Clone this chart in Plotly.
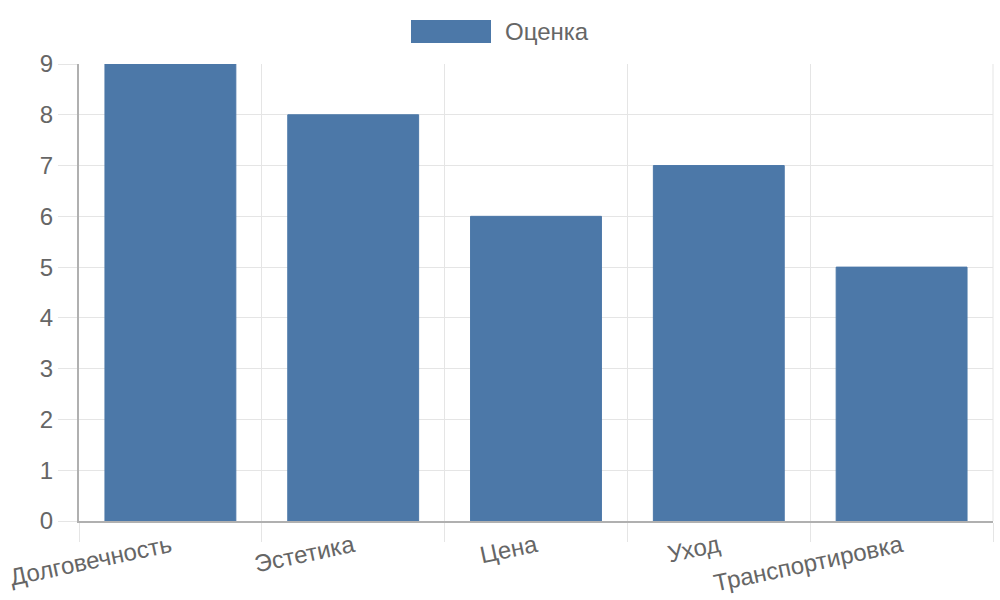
import plotly.graph_objects as go

categories = ["Долговечность", "Эстетика", "Цена", "Уход", "Транспортировка"]
values = [9, 8, 6, 7, 5]
series_name = "Оценка"
y_ticks = [0, 1, 2, 3, 4, 5, 6, 7, 8, 9]

bar_color = "#4c78a8"
text_color = "#666666"
grid_color = "#e5e5e5"
axis_color = "#b0b0b0"
font_family = "Liberation Sans, Arial, sans-serif"

fig = go.Figure()
fig.add_trace(go.Bar(
    x=categories, y=values, name=series_name,
    marker=dict(color=bar_color, line=dict(color=bar_color, width=1)),
    showlegend=False,
))

fig.update_layout(
    width=1000, height=600,
    margin=dict(l=79, r=7, t=64, b=79, autoexpand=False),
    paper_bgcolor="white", plot_bgcolor="white",
    bargap=0.284,
    font=dict(family=font_family, color=text_color, size=24),
    xaxis=dict(
        automargin=False,
        tickson="boundaries", ticks="outside", ticklen=19, tickcolor=grid_color, tickwidth=1,
        showgrid=True, gridcolor=grid_color, gridwidth=1,
        showline=True, linecolor=axis_color, linewidth=2,
        tickangle=-12, tickfont=dict(size=24, color=text_color),
    ),
    yaxis=dict(
        automargin=False,
        range=[0, 9], tickvals=y_ticks,
        ticks="outside", ticklen=19, tickcolor=grid_color, tickwidth=1,
        showgrid=True, gridcolor=grid_color, gridwidth=1,
        showline=True, linecolor=axis_color, linewidth=2,
        zeroline=False, tickfont=dict(size=24, color=text_color),
    ),
    shapes=[
        dict(type="rect", xref="paper", yref="paper",
             x0=(411 - 79) / 914, x1=(491 - 79) / 914,
             y0=(521 - 43) / 457, y1=(521 - 20) / 457,
             fillcolor=bar_color, line=dict(width=0)),
        dict(type="line", xref="paper", yref="paper",
             x0=1, x1=1, y0=0, y1=1, line=dict(color=grid_color, width=1)),
    ],
    annotations=[
        dict(text=series_name, xref="paper", yref="paper",
             x=(503 - 79) / 914, y=(521 - 31.5) / 457,
             xanchor="left", yanchor="middle", showarrow=False,
             font=dict(size=24, color=text_color, family=font_family)),
    ],
)

fig.write_html("out.html", config={"displayModeBar": False},
               post_script="document.body.style.margin='0';")
